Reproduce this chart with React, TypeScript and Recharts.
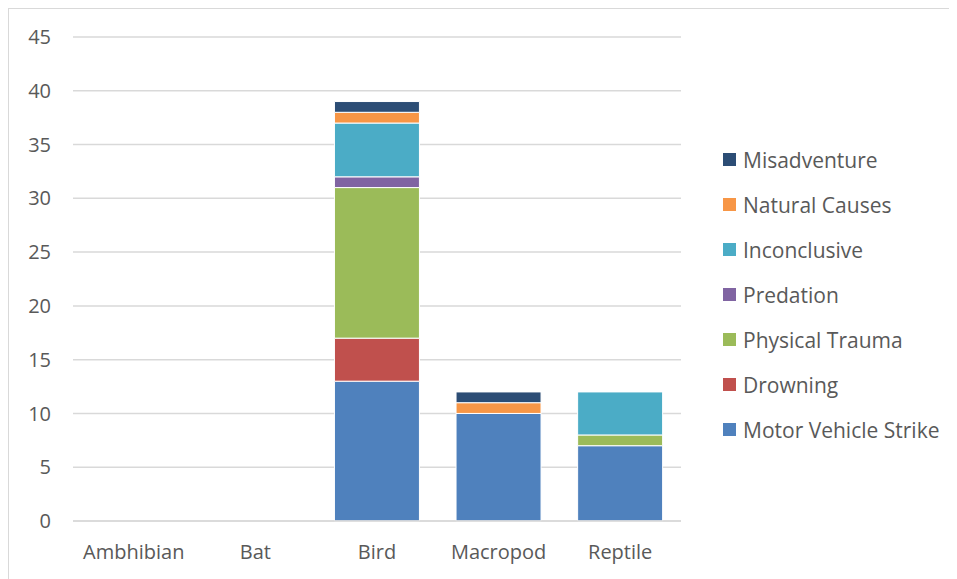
import React from 'react';
import { BarChart, Bar, XAxis, YAxis, CartesianGrid, Legend } from 'recharts';

const categories = ['Ambhibian', 'Bat', 'Bird', 'Macropod', 'Reptile'];
const motorVehicleStrike = [0, 0, 13, 10, 7];
const drowning = [0, 0, 4, 0, 0];
const physicalTrauma = [0, 0, 14, 0, 1];
const predation = [0, 0, 1, 0, 0];
const inconclusive = [0, 0, 5, 0, 4];
const naturalCauses = [0, 0, 1, 1, 0];
const misadventure = [0, 0, 1, 1, 0];
const yTicks = [0, 5, 10, 15, 20, 25, 30, 35, 40, 45];

const series = [
  { key: 'Motor Vehicle Strike', values: motorVehicleStrike, color: '#4F81BD' },
  { key: 'Drowning', values: drowning, color: '#C0504D' },
  { key: 'Physical Trauma', values: physicalTrauma, color: '#9BBB59' },
  { key: 'Predation', values: predation, color: '#8064A2' },
  { key: 'Inconclusive', values: inconclusive, color: '#4BACC6' },
  { key: 'Natural Causes', values: naturalCauses, color: '#F79646' },
  { key: 'Misadventure', values: misadventure, color: '#2C4D75' },
];

const data = categories.map((name, i) => {
  const row: Record<string, string | number> = { name };
  series.forEach((s) => {
    row[s.key] = s.values[i];
  });
  return row;
});

const textColor = '#595959';
const font = '"Open Sans", sans-serif';
const order = series.map((s) => s.key);

function LegendContent(props: any) {
  // Excel lists stacked series top-down, i.e. reversed
  const items = [...(props.payload || [])]
    .sort((a: any, b: any) => order.indexOf(b.value) - order.indexOf(a.value));
  return (
    <div style={{ fontFamily: font, fontSize: 21, color: textColor }}>
      {items.map((item: any) => (
        <div key={item.value} style={{ display: 'flex', alignItems: 'center', height: 45 }}>
          <span
            style={{ width: 13, height: 13, background: item.color, marginRight: 7, display: 'inline-block' }}
          />
          <span>{item.value}</span>
        </div>
      ))}
    </div>
  );
}

export default function App() {
  return (
    <>
      <style>{'html, body { overflow: hidden; }'}</style>
      <div
        style={{
          position: 'relative',
          width: 960,
          height: 570,
          borderTop: '1px solid #d9d9d9',
          borderLeft: '1px solid #d9d9d9',
          background: '#fff',
          fontFamily: font,
        }}
      >
        <BarChart
          width={948}
          height={570}
          data={data}
          margin={{ top: 28, right: 42, left: 0, bottom: 18 }}
          barCategoryGap="15%"
        >
          <CartesianGrid vertical={false} stroke="#d9d9d9" strokeWidth={1.5} />
          <XAxis
            dataKey="name"
            height={40}
            tickLine={false}
            tickSize={0}
            tickMargin={24}
            axisLine={{ stroke: '#d9d9d9', strokeWidth: 1.5 }}
            tick={{ fill: textColor, fontSize: 20, fontFamily: font }}
          />
          <YAxis
            width={64}
            domain={[0, 45]}
            ticks={yTicks}
            axisLine={false}
            tickLine={false}
            tickSize={0}
            tickMargin={22}
            tick={{ fill: textColor, fontSize: 20, fontFamily: font }}
          />
          <Legend
            layout="vertical"
            align="right"
            verticalAlign="middle"
            content={LegendContent}
            wrapperStyle={{ left: 714, top: 128, width: 234 }}
          />
          {series.map((s) => (
            <Bar
              key={s.key}
              dataKey={s.key}
              stackId="a"
              fill={s.color}
              stroke="#ffffff"
              strokeWidth={1}
              isAnimationActive={false}
            />
          ))}
        </BarChart>
      </div>
    </>
  );
}
